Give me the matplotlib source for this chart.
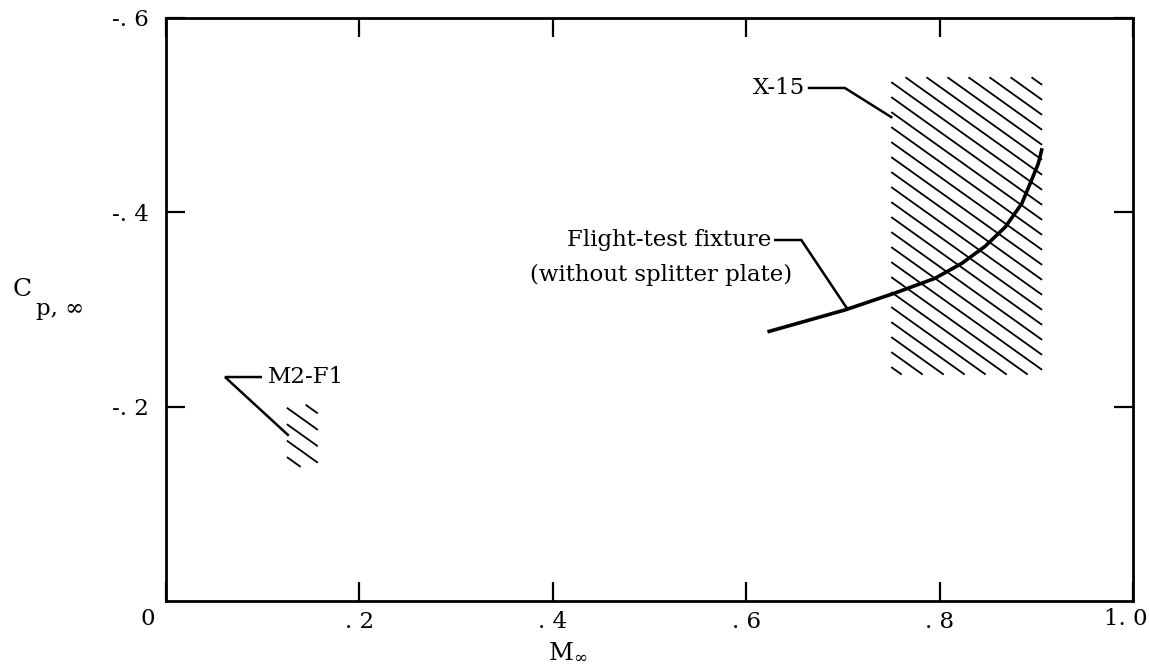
import numpy as np
import matplotlib
matplotlib.use("Agg")
import matplotlib.pyplot as plt
from matplotlib.collections import LineCollection
from matplotlib.transforms import ScaledTranslation

# ---------------- data ----------------
x_ticks = [0.0, 0.2, 0.4, 0.6, 0.8, 1.0]
x_tick_labels = ["", ". 2", ". 4", ". 6", ". 8", ""]
y_ticks = [-0.6, -0.4, -0.2]
y_tick_labels = ["-. 6", "-. 4", "-. 2"]

# Flight-test fixture (without splitter plate) curve
fixture_mach = [0.622, 0.702, 0.754, 0.795, 0.823, 0.847, 0.868, 0.885, 0.895, 0.902, 0.906]
fixture_cp = [-0.277, -0.2995, -0.317, -0.332, -0.3475, -0.365, -0.385, -0.409, -0.433, -0.450, -0.466]

# X-15 band (Mach range, Cp range)
x15_mach = [0.750, 0.906]
x15_cp = [-0.233, -0.539]

# M2-F1 band
m2f1_mach = [0.125, 0.157]
m2f1_cp = [-0.138, -0.202]

# ---------------- figure ----------------
W, H = 1149, 667
fig = plt.figure(figsize=(W / 100, H / 100), dpi=100)
ax = fig.add_axes([166 / W, 1 - 601 / H, (1133 - 166) / W, (601 - 18) / H])
ax.set_xlim(0, 1.0)
ax.set_ylim(0, -0.6)

serif = ["DejaVu Serif"]
fs = 16.5

for s in ax.spines.values():
    s.set_linewidth(2.0)
    s.set_color("black")

ax.set_xticks(x_ticks)
ax.set_xticklabels(x_tick_labels, family=serif, fontsize=fs)
ax.set_yticks(y_ticks)
ax.set_yticklabels(y_tick_labels, family=serif, fontsize=fs)
ax.tick_params(axis="both", direction="in", length=14, width=1.6,
               top=True, right=True, labeltop=False, labelright=False)
ax.tick_params(axis="x", pad=7)
ax.tick_params(axis="y", pad=12)

# end labels "0" and "1.0"
ax.text(0, 0, "0", family=serif, fontsize=fs, ha="center", va="top",
        transform=ax.transData + ScaledTranslation(-0.18, -0.07, fig.dpi_scale_trans))
ax.text(1.0, 0, "1. 0", family=serif, fontsize=fs, ha="right", va="top",
        transform=ax.transData + ScaledTranslation(0.14, -0.07, fig.dpi_scale_trans))

# axis labels
fig.text(568 / W, 1 - 652 / H, r"$\mathregular{M_{\infty}}$", family=serif,
         fontsize=fs + 1, ha="center", va="center")
fig.text(22 / W, 1 - 290 / H, "C", family=serif, fontsize=fs + 1.5,
         ha="center", va="center")
fig.text(60 / W, 1 - 309 / H, "p, \u221e", family=serif, fontsize=fs,
         ha="center", va="center")


def hatch_box(ax, xs, ys, spacing_x=21.0, slope=15.0 / 21.0, lw=1.3, phase=0.0):
    """Diagonal hatch lines (upper-left to lower-right) filling a box."""
    x0, x1 = min(xs), max(xs)
    y0, y1 = min(ys), max(ys)
    p = ax.transData.transform([[x0, y0], [x1, y1]])
    pxl, pxr = p[:, 0].min(), p[:, 0].max()
    pyb, pyt = p[:, 1].min(), p[:, 1].max()
    # line family: y = c - slope * (x - pxl)
    dc = spacing_x * slope
    c_min = pyb
    c_max = pyt + slope * (pxr - pxl)
    inv = ax.transData.inverted()
    segs = []
    c = c_min + phase * dc
    while c <= c_max:
        xa = max(pxl, pxl + (c - pyt) / slope)
        xb = min(pxr, pxl + (c - pyb) / slope)
        if xb - xa > 1.0:
            a = (xa, c - slope * (xa - pxl))
            b = (xb, c - slope * (xb - pxl))
            segs.append(inv.transform([a, b]))
        c += dc
    lc = LineCollection(segs, colors="black", linewidths=lw)
    ax.add_collection(lc)


hatch_box(ax, x15_mach, x15_cp, phase=0.5)
hatch_box(ax, m2f1_mach, m2f1_cp, spacing_x=23.0, phase=0.6)

ax.plot(fixture_mach, fixture_cp, color="black", lw=2.6, solid_capstyle="butt")

# leaders and labels
lead_kw = dict(color="black", lw=1.8, solid_joinstyle="miter")
ax.plot([0.665, 0.702, 0.750], [-0.528, -0.528, -0.498], **lead_kw)
ax.text(0.661, -0.528, "X-15", family=serif, fontsize=fs, ha="right", va="center")

ax.plot([0.630, 0.657, 0.704], [-0.3715, -0.3715, -0.3015], **lead_kw)
ax.text(0.626, -0.3715, "Flight-test fixture", family=serif, fontsize=fs,
        ha="right", va="center")
ax.text(0.648, -0.336, "(without splitter plate)", family=serif, fontsize=fs,
        ha="right", va="center")

ax.plot([0.098, 0.061, 0.126], [-0.2305, -0.2305, -0.171], **lead_kw)
ax.text(0.105, -0.2305, "M2-F1", family=serif, fontsize=fs, ha="left", va="center")

fig.savefig("out.png", dpi=100, facecolor="white")
